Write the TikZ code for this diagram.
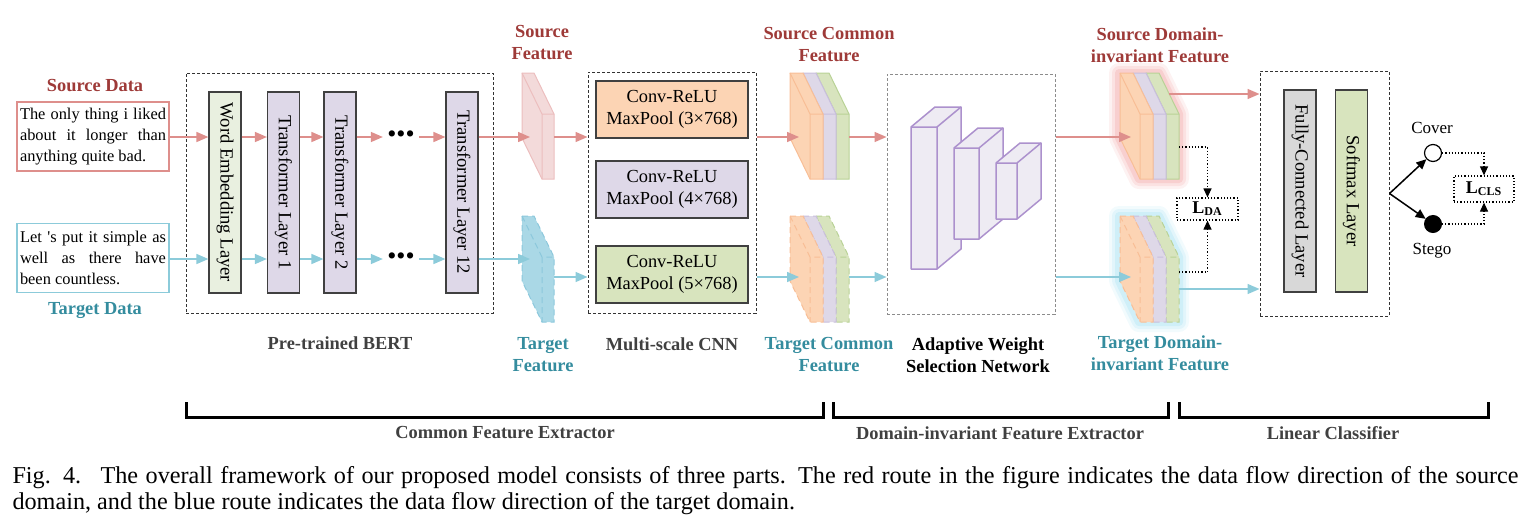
\documentclass[tikz,border=0pt]{standalone}
\usepackage{fontspec}
\setmainfont{Liberation Serif}
\usepackage{graphicx}
\usetikzlibrary{arrows.meta}

\definecolor{srcline}{RGB}{222,143,140}
\definecolor{tgtline}{RGB}{140,203,218}
\definecolor{srctext}{RGB}{158,58,56}
\definecolor{tgttext}{RGB}{52,140,158}
\definecolor{labgray}{RGB}{64,64,64}
\definecolor{embfill}{RGB}{233,240,224}
\definecolor{tffill}{RGB}{222,216,232}
\definecolor{tfline}{RGB}{200,190,220}
\definecolor{orfill}{RGB}{252,212,180}
\definecolor{orline}{RGB}{248,190,150}
\definecolor{grfill}{RGB}{216,228,190}
\definecolor{grline}{RGB}{185,210,150}
\definecolor{fcfill}{RGB}{216,216,216}
\definecolor{sfeatfill}{RGB}{243,218,218}
\definecolor{sfeatline}{RGB}{236,190,190}
\definecolor{tfeatfill}{RGB}{170,216,230}
\definecolor{tfeatline}{RGB}{140,200,220}
\definecolor{cubeline}{RGB}{172,145,205}
\definecolor{cubefill}{RGB}{238,235,243}
\definecolor{srcglow}{RGB}{240,150,150}
\definecolor{tgtglow}{RGB}{150,220,240}

\tikzset{every picture/.style={line width=0.5pt}}
\tikzset{
  layer/.style={draw=black!75, line width=0.6pt, minimum width=16pt, minimum height=100.5pt, inner sep=0pt, font=\fontsize{9.3}{11}\selectfont},
  convbox/.style={draw=black!75, line width=0.6pt, minimum width=76pt, minimum height=28.5pt, inner sep=0pt, align=center, font=\fontsize{9.2}{11}\selectfont},
  groupbox/.style={draw=black!80, dash pattern=on 1.5pt off 1pt, inner sep=0pt},
  databox/.style={line width=0.75pt, minimum width=76pt, minimum height=34.5pt, text width=73pt, inner xsep=1.5pt, inner ysep=0pt, align=justify, font=\fontsize{8.2}{10.5}\selectfont},
  headsrc/.style={font=\bfseries\fontsize{9.2}{11}\selectfont, text=srctext, align=center},
  headtgt/.style={font=\bfseries\fontsize{9.2}{11}\selectfont, text=tgttext, align=center},
  headgray/.style={font=\bfseries\fontsize{9.2}{11}\selectfont, text=labgray, align=center},
  srcflow/.style={draw=srcline, fill=srcline, line width=0.75pt, -{Triangle[length=6pt,width=5pt]}},
  tgtflow/.style={draw=tgtline, fill=tgtline, line width=0.75pt, -{Triangle[length=6pt,width=5pt]}},
  dotsnode/.style={inner sep=0pt, font=\fontsize{13}{13}\selectfont},
  cube/.style={draw=cubeline, fill=cubefill, line width=0.75pt, line join=round},
  lossbox/.style={draw=black, densely dotted, line width=0.6pt, inner sep=0pt, font=\bfseries\fontsize{9}{10}\selectfont},
  lossflow/.style={densely dotted, line width=0.6pt, -{Triangle[length=4.5pt,width=4pt]}},
  outflow/.style={line width=0.75pt, -{Triangle[length=5pt,width=4.5pt]}},
  bracket/.style={line width=1.5pt},
}

\begin{document}
\begin{tikzpicture}[x=0.5pt,y=0.5pt,yscale=-1,xscale=1]
\useasboundingbox (0,0) rectangle (1534,530);

% rows of the two routes
\coordinate (srow) at (0,137);
\coordinate (trow) at (0,259);
\coordinate (trow2) at (0,277);

% input sentences
\node[databox, draw=srcline] (srcdata) at (93,136.5) {The only thing i liked\linebreak about it longer than\linebreak anything quite bad.};
\node[headsrc] (srclab) at (95,86) {Source Data};
\node[databox, draw=tgtline] (tgtdata) at (93,258) {Let \textquotesingle s put it simple as\linebreak well as there have\linebreak been countless.};
\node[headtgt] (tgtlab) at (95,311) {Target Data};

% pre-trained BERT
\node[groupbox, minimum width=153.5pt, minimum height=120pt] (bert) at (339.5,193) {};
\node[layer, fill=embfill] (emb) at (225,192.5) {\rotatebox{-90}{Word Embedding Layer}};
\node[layer, fill=tffill] (tf1) at (283.5,192.5) {\rotatebox{-90}{Transformer Layer 1}};
\node[layer, fill=tffill] (tf2) at (340,192.5) {\rotatebox{-90}{Transformer Layer 2}};
\node[dotsnode] (sdots) at (401,137) {\textbullet\textbullet\textbullet};
\node[dotsnode] (tdots) at (401,259) {\textbullet\textbullet\textbullet};
\node[layer, fill=tffill] (tf12) at (462,192.5) {\rotatebox{-90}{Transformer Layer 12}};
\node[headgray] (bertlab) at (340,343) {Pre-trained BERT};

% source / target feature
\draw[draw=sfeatline, fill=sfeatfill] (522,73) -- (534,73) -- (554,114) -- (554,179) -- (542,179) -- (522,138) -- cycle;
\draw[draw=sfeatline] (522,73) -- (542,114) -- (554,114) (542,114) -- (542,179);
\draw[draw=tfeatline, fill=tfeatfill, densely dashed] (522,216) -- (534,216) -- (554,257) -- (554,322) -- (542,322) -- (522,281) -- cycle;
\draw[draw=tfeatline, densely dashed] (522,216) -- (542,257) -- (554,257) (542,257) -- (542,322);
\coordinate (sfin) at (530,137);
\coordinate (sfout) at (554,137);
\coordinate (tfin) at (530,259);
\coordinate (tfout) at (554,277);
\node[headsrc] (sflab) at (542,43) {Source\\Feature};
\node[headtgt] (tflab) at (543,355) {Target\\Feature};

% multi-scale CNN
\node[groupbox, minimum width=84pt, minimum height=120.5pt] (cnn) at (672,192.5) {};
\node[convbox, fill=orfill] (conv3) at (672,109.5) {Conv-ReLU\\MaxPool (3×768)};
\node[convbox, fill=tffill] (conv4) at (672,189.5) {Conv-ReLU\\MaxPool (4×768)};
\node[convbox, fill=grfill] (conv5) at (672,274.5) {Conv-ReLU\\MaxPool (5×768)};
\node[headgray] (cnnlab) at (672,344) {Multi-scale CNN};

% common features
\foreach \fx/\fc/\dc in {836/grfill/grline, 823/tffill/tfline, 810/orfill/orline}{
  \draw[draw=\dc, fill=\fc] (\fx-20,73) -- (\fx-7,73) -- (\fx+13,114) -- (\fx+13,179) -- (\fx,179) -- (\fx-20,138) -- cycle;
  \draw[draw=\dc] (\fx-20,73) -- (\fx,114) -- (\fx+13,114) (\fx,114) -- (\fx,179);
  \draw[draw=\dc, fill=\fc, densely dashed] (\fx-20,216) -- (\fx-7,216) -- (\fx+13,257) -- (\fx+13,322) -- (\fx,322) -- (\fx-20,281) -- cycle;
  \draw[draw=\dc, densely dashed] (\fx-20,216) -- (\fx,257) -- (\fx+13,257) (\fx,257) -- (\fx,322);
}
\coordinate (scin) at (799,137);
\coordinate (scout) at (849,137);
\coordinate (tcin) at (799,277);
\coordinate (tcout) at (849,277);
\node[headsrc] (sclab) at (829,44.5) {Source Common\\Feature};
\node[headtgt] (tclab) at (829,355) {Target Common\\Feature};

% adaptive weight selection network
\node[groupbox, draw=black!45, minimum width=84pt, minimum height=120pt] (awsn) at (971,194) {};
\foreach \lx/\ty/\w/\by in {911/127/26/269, 954/148/25/239, 996/163/21/219}{
  \draw[cube] (\lx,\ty) -- ++(24,-20) -- ++(\w,0) -- ++(0,\by-\ty) -- ++(-24,20) -- ++(-\w,0) -- cycle;
  \draw[cube, fill=none] (\lx,\ty) -- ++(\w,0) -- ++(24,-20) (\lx+\w,\ty) -- (\lx+\w,\by);
}
\node[headgray, text=black] (awsnlab) at (978,355) {Adaptive Weight\\Selection Network};

% domain-invariant features
\foreach \w/\op in {10/0.12, 7/0.18, 4/0.25}{
  \draw[srcglow, line width=\w pt, opacity=\op, line join=round] (1119,73) -- (1159,73) -- (1179,114) -- (1179,179) -- (1139,179) -- (1119,138) -- cycle;
  \draw[tgtglow, line width=\w pt, opacity=\op, line join=round] (1119,216) -- (1159,216) -- (1179,257) -- (1179,322) -- (1139,322) -- (1119,281) -- cycle;
}
\foreach \fx/\fc/\dc in {1166/grfill/grline, 1153/tffill/tfline, 1140/orfill/orline}{
  \draw[draw=\dc, fill=\fc] (\fx-20,73) -- (\fx-7,73) -- (\fx+13,114) -- (\fx+13,179) -- (\fx,179) -- (\fx-20,138) -- cycle;
  \draw[draw=\dc] (\fx-20,73) -- (\fx,114) -- (\fx+13,114) (\fx,114) -- (\fx,179);
  \draw[draw=\dc, fill=\fc, densely dashed] (\fx-20,216) -- (\fx-7,216) -- (\fx+13,257) -- (\fx+13,322) -- (\fx,322) -- (\fx-20,281) -- cycle;
  \draw[draw=\dc, densely dashed] (\fx-20,216) -- (\fx,257) -- (\fx+13,257) (\fx,257) -- (\fx,322);
}
\coordinate (sdin) at (1131,137);
\coordinate (sdout) at (1169,94);
\coordinate (tdin) at (1131,277);
\coordinate (tdout) at (1179,289);
\coordinate (sdtap) at (1179,147);
\coordinate (tdtap) at (1179,272);
\node[headsrc] (sdlab) at (1160,45.5) {Source Domain-\\invariant Feature};
\node[headtgt] (tdlab) at (1160,353) {Target Domain-\\invariant Feature};
\node[lossbox, minimum width=30.5pt, minimum height=11pt] (lda) at (1207.5,209) {L\textsubscript{DA}};

% linear classifier
\node[groupbox, minimum width=64.5pt, minimum height=122.5pt] (lc) at (1324.5,193.5) {};
\node[layer, fill=fcfill, minimum height=101pt] (fc) at (1300,191) {\rotatebox{-90}{Fully-Connected Layer}};
\node[layer, fill=grfill, minimum height=101pt] (smax) at (1351.5,191) {\rotatebox{-90}{Softmax Layer}};
\node[draw=black, fill=white, circle, minimum size=8.5pt, inner sep=0pt, line width=0.6pt] (cover) at (1433,153) {};
\node[draw=black, fill=black, circle, minimum size=8.5pt, inner sep=0pt] (stego) at (1433,224) {};
\node[font=\fontsize{8.5}{10}\selectfont] (coverlab) at (1432,128) {Cover};
\node[font=\fontsize{8.5}{10}\selectfont] (stegolab) at (1432,251) {Stego};
\node[lossbox, minimum width=30pt, minimum height=13pt] (lcls) at (1484,189) {L\textsubscript{CLS}};

% source route
\draw[srcflow] (srcdata.east |- srow) -- (emb.west |- srow);
\draw[srcflow] (emb.east |- srow) -- (tf1.west |- srow);
\draw[srcflow] (tf1.east |- srow) -- (tf2.west |- srow);
\draw[srcflow] (tf2.east |- srow) -- ([xshift=-2pt]sdots.west);
\draw[srcflow] ([xshift=2pt]sdots.east) -- (tf12.west |- srow);
\draw[srcflow] (tf12.east |- srow) -- (sfin);
\draw[srcflow] (sfout) -- (cnn.west |- srow);
\draw[srcflow] (cnn.east |- srow) -- (scin);
\draw[srcflow] (scout) -- (awsn.west |- srow);
\draw[srcflow] (awsn.east |- srow) -- (sdin);
\draw[srcflow] (sdout) -- (lc.west |- sdout);

% target route
\draw[tgtflow] (tgtdata.east |- trow) -- (emb.west |- trow);
\draw[tgtflow] (emb.east |- trow) -- (tf1.west |- trow);
\draw[tgtflow] (tf1.east |- trow) -- (tf2.west |- trow);
\draw[tgtflow] (tf2.east |- trow) -- ([xshift=-2pt]tdots.west);
\draw[tgtflow] ([xshift=2pt]tdots.east) -- (tf12.west |- trow);
\draw[tgtflow] (tf12.east |- trow) -- (tfin);
\draw[tgtflow] (tfout) -- (cnn.west |- trow2);
\draw[tgtflow] (cnn.east |- trow2) -- (tcin);
\draw[tgtflow] (tcout) -- (awsn.west |- trow2);
\draw[tgtflow] (awsn.east |- trow2) -- (tdin);
\draw[tgtflow] (tdout) -- (lc.west |- tdout);

% losses and outputs
\draw[lossflow] (sdtap) -| (lda.north);
\draw[lossflow] (tdtap) -| (lda.south);
\draw[outflow] (lc.east) -- (cover);
\draw[outflow] (lc.east) -- (stego);
\draw[lossflow] (cover.east) -| (lcls.north);
\draw[lossflow] (stego.east) -| (lcls.south);

% parts
\draw[bracket] (186,402) -- (186,417) -- (823,417) -- (823,402);
\draw[bracket] (833,402) -- (833,417) -- (1168,417) -- (1168,402);
\draw[bracket] (1179,402) -- (1179,417) -- (1488,417) -- (1488,402);
\node[headgray] (part1) at (505,433) {Common Feature Extractor};
\node[headgray] (part2) at (1000,433) {Domain-invariant Feature Extractor};
\node[headgray] (part3) at (1333,433) {Linear Classifier};

\node[anchor=base west, text width=753pt, align=justify, inner sep=0pt, font=\fontsize{12.1}{13}\selectfont] (caption) at (12,483) {Fig. 4.\hspace{0.8em}The overall framework of our proposed model consists of three parts. The red route in the figure indicates the data flow direction of the source\linebreak domain, and the blue route indicates the data flow direction of the target domain.};

\end{tikzpicture}
\end{document}
